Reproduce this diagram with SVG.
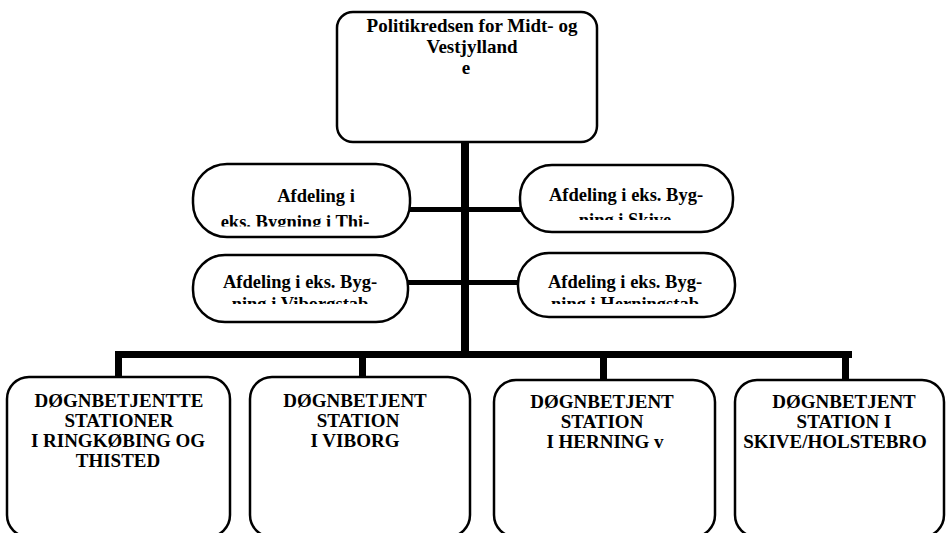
<svg xmlns="http://www.w3.org/2000/svg" width="947" height="533" viewBox="0 0 947 533">
<style>
.box{fill:#fff;stroke:#000;stroke-width:2.5}
.t{font-family:"Liberation Serif","Times New Roman",serif;font-weight:bold;fill:#000;text-anchor:middle}
.t20{font-size:19px}
.t19{font-size:19px}
.t18{font-size:18.5px}
.c{fill:#000}
</style>
<defs>
<clipPath id="clipLT"><rect x="200" y="170" width="200" height="56.5"/></clipPath>
<clipPath id="clipRT"><rect x="530" y="170" width="195" height="50"/></clipPath>
<clipPath id="clipLB"><rect x="200" y="258" width="200" height="46"/></clipPath>
<clipPath id="clipRB"><rect x="530" y="258" width="195" height="46"/></clipPath>
</defs>
<rect width="947" height="533" fill="#fff"/>
<g id="connectors">
<rect class="c" x="461" y="140" width="8" height="218"/>
<rect class="c" x="405" y="207" width="60" height="5"/>
<rect class="c" x="465" y="207" width="56" height="5"/>
<rect class="c" x="403" y="280" width="62" height="5"/>
<rect class="c" x="465" y="280" width="56" height="5"/>
<rect class="c" x="115" y="351" width="737" height="7"/>
<rect class="c" x="115" y="351" width="7" height="28"/>
<rect class="c" x="359" y="351" width="7" height="28"/>
<rect class="c" x="600" y="351" width="7" height="31"/>
<rect class="c" x="842" y="351" width="7" height="31"/>
</g>
<g id="node-top">
<rect class="box" x="337" y="12" width="260" height="130" rx="16"/>
<text class="t t20"><tspan x="472" y="32">Politikredsen for Midt- og</tspan><tspan x="472" y="53">Vestjylland</tspan><tspan x="466" y="74">e</tspan></text>
</g>
<g id="node-thi">
<rect class="box" x="193" y="164" width="217" height="73" rx="34"/>
<text class="t t18" x="316" y="202">Afdeling i</text>
<text class="t t18" x="295" y="228" clip-path="url(#clipLT)">eks. Bygning i Thi-</text>
</g>
<g id="node-skive">
<rect class="box" x="520" y="165" width="213" height="67" rx="32"/>
<text class="t t18" x="626" y="201">Afdeling i eks. Byg-</text>
<text class="t t18" x="625" y="226" clip-path="url(#clipRT)">ning i Skive</text>
</g>
<g id="node-viborgstab">
<rect class="box" x="193" y="255" width="215" height="67" rx="32"/>
<text class="t t18" x="300" y="288">Afdeling i eks. Byg-</text>
<text class="t t18" x="300" y="310" clip-path="url(#clipLB)">ning i Viborgstab</text>
</g>
<g id="node-herningstab">
<rect class="box" x="518" y="253" width="217" height="64" rx="31"/>
<text class="t t18" x="625" y="288">Afdeling i eks. Byg-</text>
<text class="t t18" x="625" y="310" clip-path="url(#clipRB)">ning i Herningstab</text>
</g>
<g id="node-ringkobing">
<rect class="box" x="7" y="377" width="223" height="160" rx="22"/>
<text class="t t19"><tspan x="119" y="407">DØGNBETJENTTE</tspan><tspan x="119" y="427">STATIONER</tspan><tspan x="118" y="447">I RINGKØBING OG</tspan><tspan x="118" y="467">THISTED</tspan></text>
</g>
<g id="node-viborg">
<rect class="box" x="250" y="377" width="220" height="160" rx="22"/>
<text class="t t19"><tspan x="355" y="407">DØGNBETJENT</tspan><tspan x="358" y="427">STATION</tspan><tspan x="355" y="447">I VIBORG</tspan></text>
</g>
<g id="node-herning">
<rect class="box" x="494" y="380" width="221" height="157" rx="22"/>
<text class="t t19"><tspan x="602" y="408">DØGNBETJENT</tspan><tspan x="602" y="428">STATION</tspan><tspan x="605" y="448">I HERNING v</tspan></text>
</g>
<g id="node-skive-holstebro">
<rect class="box" x="735" y="380" width="209" height="157" rx="22"/>
<text class="t t19"><tspan x="844" y="408">DØGNBETJENT</tspan><tspan x="844" y="428">STATION I</tspan><tspan x="835" y="448">SKIVE/HOLSTEBRO</tspan></text>
</g>
</svg>
